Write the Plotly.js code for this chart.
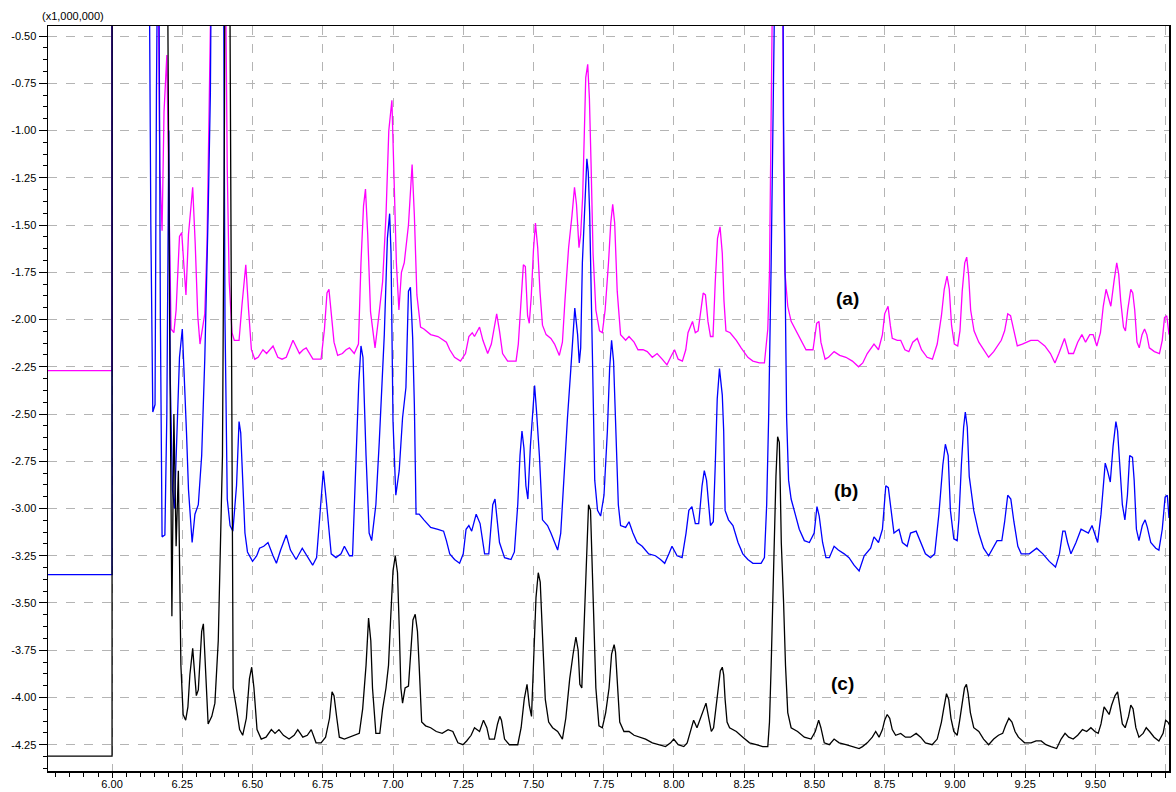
<!DOCTYPE html>
<html>
<head>
<meta charset="utf-8">
<script src="https://cdn.plot.ly/plotly-3.0.1.min.js"></script>
<style>
  html, body { margin: 0; padding: 0; background: #ffffff; }
  #chart { width: 1176px; height: 792px; }
</style>
</head>
<body>
<div id="chart"></div>
<script>
// ---- Data (intensity, x1,000,000) ----
// Values above the top of the scale (off-scale peaks) are estimated as 0.5.

// Trace (a) - magenta
var xA = [5.772,6.000,6.000,6.160,6.170,6.178,6.185,6.195,6.203,6.210,6.220,6.228,6.240,6.248,6.255,6.263,6.272,6.287,6.296,6.305,6.313,6.322,6.330,6.338,6.345,6.352,6.360,6.400,6.410,6.417,6.427,6.435,6.452,6.462,6.476,6.486,6.496,6.508,6.520,6.537,6.550,6.573,6.590,6.605,6.620,6.644,6.667,6.680,6.691,6.715,6.744,6.756,6.765,6.772,6.780,6.790,6.803,6.820,6.833,6.845,6.862,6.877,6.886,6.895,6.902,6.910,6.920,6.936,6.948,6.963,6.975,6.985,6.996,7.004,7.012,7.021,7.030,7.040,7.055,7.068,7.076,7.085,7.098,7.110,7.134,7.160,7.178,7.190,7.202,7.219,7.240,7.258,7.270,7.282,7.290,7.308,7.320,7.337,7.350,7.362,7.369,7.379,7.390,7.408,7.438,7.446,7.455,7.464,7.471,7.479,7.485,7.492,7.500,7.507,7.515,7.523,7.532,7.545,7.562,7.575,7.592,7.603,7.612,7.625,7.637,7.646,7.653,7.662,7.668,7.675,7.681,7.686,7.693,7.699,7.705,7.712,7.722,7.735,7.745,7.755,7.767,7.775,7.782,7.789,7.798,7.810,7.828,7.840,7.858,7.872,7.890,7.905,7.923,7.940,7.958,7.975,7.988,8.002,8.015,8.030,8.042,8.050,8.066,8.076,8.086,8.095,8.104,8.112,8.121,8.130,8.139,8.147,8.155,8.164,8.172,8.178,8.185,8.200,8.222,8.239,8.263,8.281,8.304,8.322,8.334,8.340,8.346,8.352,8.356,8.385,8.390,8.395,8.405,8.417,8.434,8.452,8.470,8.495,8.508,8.516,8.523,8.538,8.550,8.570,8.590,8.612,8.635,8.657,8.672,8.688,8.712,8.728,8.742,8.750,8.762,8.770,8.777,8.795,8.807,8.822,8.836,8.850,8.866,8.881,8.901,8.920,8.937,8.952,8.962,8.972,8.980,8.988,8.998,9.010,9.018,9.026,9.035,9.042,9.049,9.056,9.068,9.085,9.102,9.120,9.138,9.155,9.165,9.177,9.188,9.198,9.210,9.222,9.240,9.270,9.295,9.320,9.340,9.356,9.370,9.390,9.405,9.422,9.437,9.452,9.465,9.480,9.492,9.505,9.518,9.528,9.538,9.546,9.555,9.567,9.576,9.583,9.590,9.600,9.607,9.615,9.626,9.633,9.640,9.648,9.656,9.666,9.675,9.683,9.692,9.710,9.728,9.738,9.746,9.754,9.762];
var yA = [-2.27,-2.27,0.5,0.5,-1.2,-1.53,-0.9,-0.6,-1.4,-2.05,-2.07,-1.95,-1.56,-1.54,-1.70,-1.87,-1.55,-1.30,-1.60,-1.98,-2.13,-2.05,-1.97,-1.60,-1.10,-0.60,0.5,0.5,-1.2,-1.80,-2.07,-2.11,-2.11,-1.93,-1.71,-1.95,-2.16,-2.21,-2.20,-2.16,-2.18,-2.14,-2.20,-2.21,-2.20,-2.11,-2.18,-2.16,-2.15,-2.21,-2.21,-2.05,-1.86,-1.84,-1.98,-2.12,-2.19,-2.18,-2.16,-2.15,-2.18,-2.13,-1.70,-1.40,-1.31,-1.55,-1.96,-2.15,-2.00,-1.80,-1.45,-1.00,-0.84,-1.30,-1.70,-1.95,-1.75,-1.70,-1.50,-1.18,-1.45,-1.87,-2.04,-2.05,-2.08,-2.09,-2.11,-2.12,-2.16,-2.20,-2.22,-2.18,-2.09,-2.07,-2.09,-2.04,-2.11,-2.18,-2.13,-2.03,-1.97,-2.06,-2.18,-2.22,-2.22,-2.13,-1.90,-1.71,-1.72,-1.98,-2.02,-1.88,-1.63,-1.49,-1.62,-1.85,-2.03,-2.08,-2.10,-2.13,-2.19,-2.12,-1.90,-1.62,-1.45,-1.30,-1.39,-1.62,-1.55,-1.35,-1.01,-0.72,-0.65,-0.83,-1.18,-1.65,-1.95,-2.06,-2.07,-1.95,-1.70,-1.49,-1.39,-1.49,-1.85,-2.08,-2.11,-2.09,-2.12,-2.16,-2.16,-2.17,-2.20,-2.18,-2.21,-2.24,-2.20,-2.16,-2.21,-2.22,-2.16,-2.07,-2.01,-2.07,-2.06,-1.95,-1.86,-1.87,-2.01,-2.09,-2.09,-1.80,-1.57,-1.51,-1.65,-1.90,-2.06,-2.07,-2.11,-2.15,-2.20,-2.22,-2.23,-2.23,-2.05,-1.75,-1.20,-0.60,0.5,0.5,-1.18,-1.75,-1.93,-2.01,-2.06,-2.11,-2.16,-2.16,-2.02,-2.01,-2.12,-2.21,-2.20,-2.17,-2.19,-2.20,-2.22,-2.25,-2.23,-2.18,-2.13,-2.16,-2.08,-1.97,-1.93,-2.03,-2.10,-2.11,-2.11,-2.16,-2.17,-2.12,-2.10,-2.16,-2.20,-2.21,-2.13,-1.98,-1.84,-1.77,-1.84,-2.03,-2.13,-2.14,-2.06,-1.85,-1.70,-1.67,-1.77,-1.95,-2.06,-2.12,-2.16,-2.20,-2.17,-2.13,-2.11,-2.06,-1.97,-1.98,-2.06,-2.14,-2.13,-2.11,-2.11,-2.14,-2.18,-2.23,-2.18,-2.10,-2.18,-2.18,-2.12,-2.08,-2.12,-2.08,-2.08,-2.14,-2.07,-1.93,-1.84,-1.88,-1.93,-1.79,-1.70,-1.76,-1.90,-2.04,-2.06,-1.95,-1.84,-1.86,-1.95,-2.12,-2.15,-2.08,-2.05,-2.08,-2.15,-2.17,-2.18,-2.11,-1.99,-1.98,-2.08];

// Trace (b) - blue
var xB = [5.772,6.000,6.000,6.130,6.138,6.145,6.153,6.158,6.165,6.172,6.178,6.188,6.195,6.202,6.207,6.215,6.222,6.230,6.240,6.250,6.258,6.265,6.272,6.285,6.295,6.307,6.319,6.330,6.342,6.350,6.356,6.395,6.402,6.410,6.420,6.430,6.443,6.452,6.458,6.465,6.473,6.482,6.500,6.515,6.525,6.540,6.555,6.573,6.585,6.600,6.620,6.635,6.655,6.677,6.690,6.714,6.728,6.744,6.752,6.762,6.780,6.797,6.815,6.827,6.845,6.856,6.868,6.878,6.886,6.893,6.904,6.915,6.924,6.939,6.951,6.969,6.980,6.988,6.993,7.000,7.010,7.022,7.034,7.046,7.055,7.062,7.070,7.076,7.082,7.093,7.110,7.134,7.160,7.180,7.190,7.202,7.219,7.237,7.250,7.260,7.270,7.280,7.296,7.310,7.326,7.341,7.355,7.363,7.379,7.397,7.420,7.432,7.444,7.452,7.459,7.466,7.473,7.480,7.489,7.497,7.504,7.511,7.521,7.532,7.550,7.562,7.574,7.586,7.597,7.609,7.621,7.633,7.641,7.647,7.657,7.663,7.668,7.674,7.683,7.690,7.695,7.700,7.710,7.718,7.728,7.739,7.751,7.763,7.771,7.778,7.785,7.793,7.802,7.810,7.828,7.840,7.854,7.869,7.887,7.910,7.934,7.952,7.967,7.982,7.993,8.011,8.029,8.043,8.053,8.064,8.076,8.088,8.100,8.108,8.116,8.130,8.140,8.147,8.154,8.162,8.172,8.177,8.182,8.194,8.210,8.228,8.245,8.263,8.281,8.310,8.322,8.330,8.337,8.346,8.354,8.361,8.365,8.386,8.390,8.395,8.401,8.408,8.417,8.428,8.446,8.464,8.482,8.499,8.509,8.517,8.529,8.541,8.553,8.570,8.585,8.606,8.623,8.641,8.659,8.677,8.700,8.712,8.728,8.742,8.754,8.763,8.771,8.783,8.801,8.813,8.830,8.842,8.862,8.878,8.895,8.913,8.928,8.943,8.957,8.966,8.976,8.984,8.996,9.008,9.014,9.023,9.031,9.037,9.044,9.051,9.067,9.085,9.102,9.120,9.138,9.150,9.167,9.177,9.188,9.199,9.210,9.224,9.236,9.265,9.291,9.313,9.336,9.358,9.372,9.384,9.392,9.401,9.413,9.431,9.449,9.464,9.475,9.488,9.496,9.508,9.520,9.528,9.535,9.543,9.553,9.563,9.573,9.579,9.587,9.596,9.605,9.614,9.622,9.632,9.638,9.646,9.655,9.667,9.677,9.685,9.697,9.715,9.726,9.738,9.748,9.756,9.762];
var yB = [-3.35,-3.35,0.5,0.5,-1.5,-2.49,-2.45,-0.8,0.5,-2.0,-3.15,-3.14,-2.5,-1.0,-2.3,-2.9,-3.0,-2.6,-2.2,-2.05,-2.3,-2.6,-2.9,-3.18,-3.03,-2.98,-2.72,-2.21,-1.44,-0.80,0.5,0.5,-2.0,-2.95,-3.09,-3.12,-2.88,-2.54,-2.60,-2.85,-3.13,-3.23,-3.28,-3.25,-3.21,-3.20,-3.18,-3.25,-3.29,-3.22,-3.14,-3.22,-3.27,-3.21,-3.24,-3.30,-3.26,-2.98,-2.80,-2.95,-3.24,-3.26,-3.24,-3.20,-3.25,-3.25,-2.80,-2.34,-2.14,-2.20,-2.72,-3.13,-3.17,-2.98,-2.65,-2.08,-1.57,-1.44,-1.65,-2.54,-2.93,-2.80,-2.52,-2.36,-1.85,-1.83,-2.10,-2.45,-3.03,-3.03,-3.06,-3.10,-3.11,-3.12,-3.17,-3.24,-3.27,-3.29,-3.24,-3.11,-3.09,-3.12,-3.03,-3.08,-3.24,-3.24,-2.98,-2.95,-3.18,-3.26,-3.27,-3.23,-2.98,-2.72,-2.59,-2.68,-2.88,-2.95,-2.67,-2.47,-2.35,-2.49,-2.72,-3.06,-3.09,-3.13,-3.18,-3.22,-3.13,-2.80,-2.52,-2.26,-2.08,-1.94,-2.08,-2.23,-2.15,-1.70,-1.39,-1.15,-1.22,-1.44,-2.21,-2.85,-3.01,-3.04,-2.93,-2.59,-2.26,-2.11,-2.22,-2.62,-2.98,-3.09,-3.10,-3.07,-3.13,-3.18,-3.20,-3.24,-3.25,-3.27,-3.29,-3.24,-3.20,-3.25,-3.26,-3.13,-3.01,-2.99,-3.08,-3.08,-2.88,-2.80,-2.85,-3.09,-3.07,-2.77,-2.42,-2.26,-2.40,-2.59,-3.01,-3.06,-3.09,-3.18,-3.24,-3.27,-3.29,-3.29,-3.26,-2.98,-2.52,-1.70,-1.06,-0.54,0.5,0.5,-0.93,-1.70,-2.52,-2.85,-2.95,-3.01,-3.11,-3.17,-3.18,-3.13,-2.99,-3.04,-3.18,-3.26,-3.26,-3.20,-3.22,-3.24,-3.26,-3.30,-3.33,-3.25,-3.21,-3.15,-3.18,-3.11,-2.88,-2.89,-2.98,-3.13,-3.11,-3.18,-3.20,-3.13,-3.12,-3.18,-3.24,-3.26,-3.24,-3.03,-2.77,-2.66,-2.72,-3.01,-3.16,-3.17,-3.06,-2.77,-2.57,-2.49,-2.57,-2.83,-3.01,-3.13,-3.21,-3.25,-3.20,-3.17,-3.17,-3.07,-2.93,-2.95,-3.07,-3.20,-3.24,-3.24,-3.21,-3.24,-3.28,-3.31,-3.24,-3.12,-3.12,-3.18,-3.24,-3.18,-3.11,-3.12,-3.13,-3.09,-3.13,-3.18,-3.03,-2.88,-2.76,-2.80,-2.86,-2.67,-2.54,-2.59,-2.77,-2.98,-3.06,-2.93,-2.72,-2.73,-2.85,-3.11,-3.17,-3.09,-3.06,-3.10,-3.18,-3.21,-3.22,-3.11,-2.94,-2.93,-3.05];

// Trace (c) - black
var xC = [5.772,6.000,6.000,6.195,6.205,6.213,6.220,6.228,6.236,6.245,6.253,6.262,6.270,6.277,6.287,6.293,6.300,6.307,6.319,6.325,6.333,6.342,6.355,6.366,6.378,6.386,6.393,6.400,6.403,6.417,6.420,6.425,6.431,6.443,6.454,6.465,6.478,6.489,6.497,6.505,6.516,6.531,6.548,6.567,6.580,6.594,6.610,6.630,6.648,6.661,6.679,6.695,6.709,6.726,6.744,6.760,6.774,6.783,6.790,6.800,6.809,6.827,6.845,6.862,6.880,6.892,6.904,6.913,6.921,6.927,6.939,6.953,6.963,6.975,6.984,6.992,7.000,7.008,7.016,7.022,7.028,7.034,7.043,7.055,7.063,7.071,7.079,7.087,7.093,7.102,7.116,7.134,7.154,7.175,7.196,7.213,7.231,7.249,7.262,7.278,7.290,7.308,7.322,7.334,7.343,7.361,7.372,7.380,7.386,7.397,7.414,7.444,7.456,7.467,7.477,7.485,7.493,7.503,7.509,7.517,7.524,7.532,7.542,7.554,7.568,7.586,7.603,7.615,7.629,7.641,7.651,7.659,7.665,7.672,7.680,7.689,7.696,7.703,7.710,7.716,7.722,7.733,7.745,7.757,7.769,7.778,7.787,7.792,7.798,7.807,7.822,7.840,7.858,7.881,7.899,7.923,7.946,7.970,7.988,7.999,8.015,8.035,8.047,8.058,8.070,8.082,8.094,8.106,8.114,8.124,8.133,8.141,8.149,8.157,8.165,8.172,8.177,8.182,8.189,8.198,8.222,8.245,8.269,8.293,8.316,8.334,8.340,8.346,8.352,8.358,8.363,8.369,8.375,8.378,8.382,8.390,8.397,8.405,8.417,8.440,8.464,8.488,8.503,8.515,8.523,8.535,8.553,8.570,8.588,8.612,8.635,8.659,8.671,8.688,8.706,8.718,8.730,8.742,8.750,8.759,8.768,8.777,8.789,8.807,8.824,8.842,8.862,8.878,8.895,8.919,8.937,8.952,8.960,8.970,8.978,8.986,8.996,9.008,9.016,9.025,9.034,9.041,9.047,9.055,9.067,9.085,9.102,9.120,9.138,9.155,9.170,9.180,9.192,9.203,9.214,9.226,9.248,9.271,9.289,9.307,9.324,9.342,9.362,9.378,9.392,9.405,9.421,9.437,9.454,9.469,9.484,9.498,9.510,9.520,9.531,9.540,9.549,9.558,9.570,9.579,9.587,9.596,9.606,9.618,9.626,9.634,9.644,9.655,9.670,9.681,9.693,9.709,9.726,9.741,9.750,9.758,9.765];
var yC = [-4.31,-4.31,0.5,0.5,-2.0,-3.57,-2.5,-3.2,-2.8,-3.83,-4.09,-4.12,-4.05,-3.88,-3.74,-3.85,-3.99,-3.96,-3.65,-3.61,-3.88,-4.14,-4.10,-4.03,-3.70,-3.24,-2.72,-0.93,0.5,0.5,-0.67,-2.21,-3.95,-4.06,-4.17,-4.20,-4.11,-3.90,-3.84,-3.95,-4.17,-4.22,-4.21,-4.17,-4.19,-4.17,-4.20,-4.22,-4.20,-4.17,-4.21,-4.20,-4.17,-4.24,-4.24,-4.21,-4.11,-3.97,-3.99,-4.11,-4.21,-4.22,-4.21,-4.20,-4.19,-4.06,-3.83,-3.58,-3.70,-3.95,-4.19,-4.19,-4.06,-3.95,-3.83,-3.57,-3.33,-3.25,-3.34,-3.62,-3.95,-4.03,-3.95,-3.94,-3.75,-3.59,-3.56,-3.65,-3.83,-4.13,-4.15,-4.16,-4.18,-4.19,-4.17,-4.18,-4.24,-4.25,-4.23,-4.20,-4.16,-4.18,-4.12,-4.16,-4.22,-4.22,-4.14,-4.10,-4.12,-4.22,-4.25,-4.25,-4.16,-4.01,-3.93,-4.04,-4.10,-3.75,-3.47,-3.34,-3.39,-3.67,-4.01,-4.13,-4.16,-4.18,-4.22,-4.11,-3.90,-3.77,-3.68,-3.75,-3.93,-3.95,-3.62,-3.29,-2.98,-3.01,-3.36,-3.65,-3.95,-4.15,-4.16,-4.08,-3.95,-3.77,-3.72,-3.76,-3.93,-4.13,-4.18,-4.18,-4.20,-4.21,-4.22,-4.24,-4.25,-4.26,-4.24,-4.22,-4.25,-4.26,-4.24,-4.18,-4.12,-4.16,-4.11,-4.06,-4.03,-4.11,-4.18,-4.16,-4.06,-3.95,-3.86,-3.84,-3.88,-4.01,-4.13,-4.16,-4.18,-4.21,-4.24,-4.25,-4.26,-4.26,-4.13,-3.83,-3.44,-3.11,-2.83,-2.62,-2.65,-2.85,-3.18,-3.49,-3.83,-4.08,-4.16,-4.18,-4.21,-4.22,-4.18,-4.12,-4.16,-4.24,-4.25,-4.22,-4.24,-4.25,-4.26,-4.27,-4.26,-4.24,-4.21,-4.18,-4.21,-4.17,-4.12,-4.09,-4.11,-4.17,-4.20,-4.19,-4.21,-4.21,-4.19,-4.21,-4.24,-4.25,-4.22,-4.13,-4.06,-3.98,-4.01,-4.11,-4.18,-4.20,-4.13,-4.03,-3.95,-3.93,-3.98,-4.08,-4.16,-4.18,-4.22,-4.25,-4.22,-4.20,-4.19,-4.15,-4.11,-4.13,-4.18,-4.21,-4.24,-4.24,-4.23,-4.23,-4.25,-4.26,-4.27,-4.22,-4.19,-4.21,-4.22,-4.20,-4.17,-4.18,-4.16,-4.18,-4.19,-4.14,-4.05,-4.07,-4.09,-4.04,-3.99,-3.97,-4.04,-4.14,-4.16,-4.10,-4.04,-4.06,-4.16,-4.21,-4.19,-4.16,-4.18,-4.21,-4.23,-4.19,-4.12,-4.13,-4.15];

// Tick labels
var xTickLabels = ['6.00','6.25','6.50','6.75','7.00','7.25','7.50','7.75','8.00','8.25','8.50','8.75','9.00','9.25','9.50','9.75'];
var yTickLabels = ['-4.25','-4.00','-3.75','-3.50','-3.25','-3.00','-2.75','-2.50','-2.25','-2.00','-1.75','-1.50','-1.25','-1.00','-0.75','-0.50'];
var seriesLabels = ['(a)','(b)','(c)'];
var labelX = [8.618, 8.614, 8.601];
var labelY = [-1.89, -2.905, -3.925];
var scaleLabel = '(x1,000,000)';

var xTickVals = xTickLabels.map(parseFloat);
var yTickVals = yTickLabels.map(parseFloat);

var lineW = 1.3;
var traces = [
  {x: xA, y: yA, type: 'scatter', mode: 'lines', line: {color: '#ff00ff', width: lineW}, name: '(a)'},
  {x: xB, y: yB, type: 'scatter', mode: 'lines', line: {color: '#0000ff', width: lineW}, name: '(b)'},
  {x: xC, y: yC, type: 'scatter', mode: 'lines', line: {color: '#000000', width: lineW}, name: '(c)'}
];

var annotations = seriesLabels.map(function (t, i) {
  return {x: labelX[i], y: labelY[i], xref: 'x', yref: 'y', text: '<b>' + t + '</b>', showarrow: false,
          font: {family: 'Arial, Liberation Sans, sans-serif', size: 19, color: '#000000'},
          xanchor: 'center', yanchor: 'middle'};
});
annotations.push({x: -0.0075, y: 1.0135, xref: 'paper', yref: 'paper', text: scaleLabel, showarrow: false,
  xanchor: 'left', yanchor: 'middle', font: {family: 'Arial, Liberation Sans, sans-serif', size: 11, color: '#000000'}});

var axisFont = {family: 'Arial, Liberation Sans, sans-serif', size: 11, color: '#000000'};

var layout = {
  width: 1176, height: 792,
  margin: {l: 48, r: 7, t: 26, b: 21, pad: 0},
  paper_bgcolor: '#ffffff', plot_bgcolor: '#ffffff',
  showlegend: false,
  xaxis: {
    range: [5.772, 9.762], tickvals: xTickVals, ticktext: xTickLabels,
    showgrid: true, gridcolor: '#b4b4b4', griddash: 'dash', gridwidth: 1,
    zeroline: false, showline: true, linecolor: '#000000', linewidth: 1.5, mirror: true,
    ticks: 'outside', ticklen: 5, tickwidth: 1, tickcolor: '#000000', tickfont: axisFont,
    ticklabelstandoff: -3,
    minor: {tick0: 6.0, dtick: 0.05, ticks: 'outside', ticklen: 4, tickwidth: 1, tickcolor: '#000000', showgrid: false}
  },
  yaxis: {
    range: [-4.389, -0.447], tickvals: yTickVals, ticktext: yTickLabels,
    showgrid: true, gridcolor: '#b4b4b4', griddash: 'dash', gridwidth: 1,
    zeroline: false, showline: true, linecolor: '#000000', linewidth: 1.5, mirror: true,
    ticks: 'outside', ticklen: 8, tickwidth: 1, tickcolor: '#000000', tickfont: axisFont,
    minor: {tick0: -0.5, dtick: 0.0625, ticks: 'outside', ticklen: 4, tickwidth: 1, tickcolor: '#000000', showgrid: false}
  },
  annotations: annotations
};

Plotly.newPlot('chart', traces, layout, {displayModeBar: false, staticPlot: true});
</script>
</body>
</html>
